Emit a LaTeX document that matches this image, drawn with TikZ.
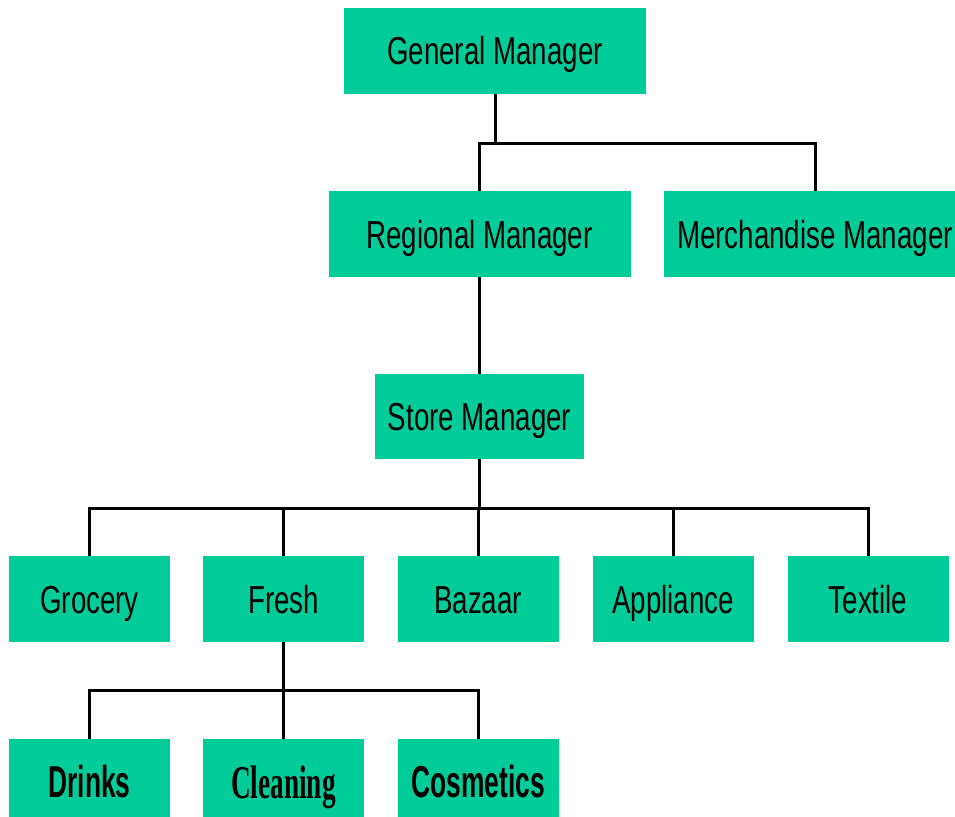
\documentclass[tikz,border=0pt]{standalone}
\usepackage{fontspec}
\setmainfont{Liberation Sans}
\newfontfamily\narrowfont{Liberation Sans}[FakeStretch=0.71]
\newfontfamily\narrowbold{Liberation Sans Bold}[FakeStretch=0.59]
\newfontfamily\serifbold{Liberation Serif Bold}[FakeStretch=0.58]
\definecolor{boxgreen}{RGB}{0,204,153}
\begin{document}
\begin{tikzpicture}[x=1pt,y=-1pt,
  box/.style={fill=boxgreen, draw=none, inner sep=0pt, minimum height=86pt,
    text height=28pt, text depth=0pt, font=\narrowfont\fontsize{39}{46}\selectfont},
  wide/.style={box, minimum width=302pt},
  unit/.style={box, minimum width=161pt},
  leaf/.style={unit, text height=30pt, font=\narrowbold\fontsize{44.7}{52}\selectfont},
  leafserif/.style={unit, text height=32pt, font=\serifbold\fontsize{47}{54}\selectfont},
  link/.style={line width=3pt, draw=black}]
\clip (0,0) rectangle (955,816);
\node[wide] (gm) at (495,51) {General Manager};
\node[wide] (rm) at (479.5,234) {Regional Manager};
\node[wide] (mm) at (815,234) {Merchandise Manager};
\node[box, minimum width=209pt, minimum height=85pt] (sm) at (479.5,416.5) {Store Manager};
\node[unit] (gro) at (89.5,599) {Grocery};
\node[unit] (fre) at (283.5,599) {Fresh};
\node[unit] (baz) at (478,599) {Bazaar};
\node[unit] (app) at (673,599) {Appliance};
\node[unit] (tex) at (868,599) {Textile};
\node[leaf] (dri) at (89.5,782) {Drinks};
\node[leafserif] (cle) at (283.5,782) {Cleaning};
\node[leaf] (cos) at (478,782) {Cosmetics};
\draw[link] (gm.south) -- ++(0,49) coordinate (j1);
\draw[link] (rm.north) |- (j1) -| (mm.north);
\draw[link] (rm.south) -- (sm.north);
\draw[link] (sm.south) -- ++(0,49) coordinate (j2);
\foreach \n in {gro,fre,baz,app,tex} \draw[link] (j2) -| (\n.north);
\draw[link] (fre.south) -- ++(0,48) coordinate (j3);
\foreach \n in {dri,cle,cos} \draw[link] (j3) -| (\n.north);
\end{tikzpicture}
\end{document}
